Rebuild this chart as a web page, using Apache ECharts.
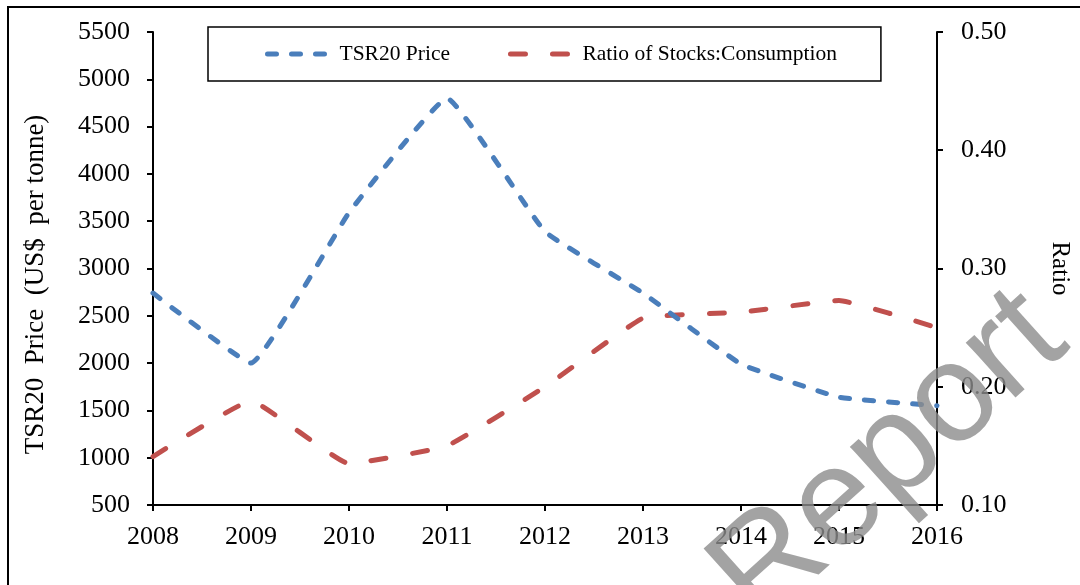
<!DOCTYPE html>
<html>
<head>
<meta charset="utf-8">
<title>TSR20 Price vs Ratio</title>
<script src="https://cdn.jsdelivr.net/npm/echarts@6/dist/echarts.min.js"></script>
<style>
  html, body { margin: 0; padding: 0; background: #fff; }
  #main { width: 1080px; height: 585px; }
</style>
</head>
<body>
<div id="main"></div>
<script>
// 年份（x 轴）
const years = ['2008', '2009', '2010', '2011', '2012', '2013', '2014', '2015', '2016'];
// TSR20 价格（左轴，US$ per tonne）
const priceValues = [2740, 2000, 3590, 4800, 3390, 2740, 1990, 1640, 1550];
// 库存消费比（右轴）
const ratioValues = [0.141, 0.188, 0.135, 0.150, 0.200, 0.258, 0.263, 0.273, 0.250];

const kFont = 'Liberation Serif';
let mainChart;

window.onload = function () {
  init();
};

function init() {
  mainChart = echarts.init(document.getElementById('main'));
  renderChart();
}

function renderChart() {
  const option = {
    backgroundColor: '#fff',
    animation: false,
    textStyle: { fontFamily: kFont, color: '#000' },
    grid: { left: 153, right: 142, top: 32, bottom: 80 },
    legend: {
      left: 208,
      top: 27,
      padding: [16, 44, 16, 57],
      borderColor: '#000',
      borderWidth: 1.5,
      itemWidth: 60,
      itemHeight: 14,
      itemGap: 58,
      itemStyle: { opacity: 0 },
      lineStyle: { width: 5 },
      textStyle: { fontFamily: kFont, fontSize: 21.5, color: '#000', padding: [0, 0, 0, 7] },
      data: ['TSR20 Price', 'Ratio of Stocks:Consumption'],
    },
    xAxis: {
      type: 'category',
      data: years,
      boundaryGap: false,
      axisLine: { lineStyle: { color: '#000', width: 2 } },
      axisTick: { alignWithLabel: true, length: 6, lineStyle: { color: '#000', width: 2 } },
      axisLabel: { fontFamily: kFont, fontSize: 26, color: '#000', margin: 19 },
      splitLine: { show: false },
    },
    yAxis: [{
      type: 'value',
      min: 500,
      max: 5500,
      interval: 500,
      name: 'TSR20  Price  (US$  per tonne)',
      nameLocation: 'middle',
      nameGap: 104,
      nameTextStyle: { fontFamily: kFont, fontSize: 27, color: '#000', padding: [0, 32, 0, 0] },
      axisLine: { show: true, lineStyle: { color: '#000', width: 2 } },
      axisTick: { show: true, length: 6, lineStyle: { color: '#000', width: 2 } },
      axisLabel: {
        fontFamily: kFont,
        fontSize: 26,
        color: '#000',
        margin: 23,
        formatter: v => String(v),
      },
      splitLine: { show: false },
    }, {
      type: 'value',
      position: 'right',
      min: 0.1,
      max: 0.5,
      interval: 0.1,
      name: 'Ratio',
      nameLocation: 'middle',
      nameRotate: -90,
      nameGap: 110,
      nameTextStyle: { fontFamily: kFont, fontSize: 25, color: '#000' },
      axisLine: { show: true, lineStyle: { color: '#000', width: 2 } },
      axisTick: { show: true, length: 6, lineStyle: { color: '#000', width: 2 } },
      axisLabel: {
        fontFamily: kFont,
        fontSize: 26,
        color: '#000',
        margin: 24,
        formatter: v => v.toFixed(2),
      },
      splitLine: { show: false },
    }],
    series: [{
      name: 'TSR20 Price',
      type: 'line',
      yAxisIndex: 0,
      data: priceValues,
      smooth: 0.1,
      symbol: 'none',
      color: '#4a7ebb',
      lineStyle: { color: '#4a7ebb', width: 5, type: [9, 15], cap: 'round' },
      z: 3,
    }, {
      name: 'Ratio of Stocks:Consumption',
      type: 'line',
      yAxisIndex: 1,
      data: ratioValues,
      smooth: 0.1,
      symbol: 'none',
      color: '#c0504d',
      lineStyle: { color: '#c0504d', width: 5, type: [15, 27], cap: 'round' },
      z: 2,
    }],
    graphic: [{
      // 外框
      type: 'rect',
      shape: { x: 8, y: 7, width: 1100, height: 620 },
      style: { fill: 'none', stroke: '#000', lineWidth: 2 },
      silent: true,
      z: 0,
    }, {
      // 水印
      type: 'text',
      x: 1046,
      y: 318,
      rotation: 42 * Math.PI / 180,
      style: {
        text: 'Sample Report',
        fontFamily: 'Liberation Sans',
        fontSize: 140,
        fill: 'rgba(140,140,140,0.8)',
        align: 'right',
        verticalAlign: 'middle',
      },
      silent: true,
      z: 100,
    }],
  };

  mainChart.setOption(option);
}
</script>
</body>
</html>
